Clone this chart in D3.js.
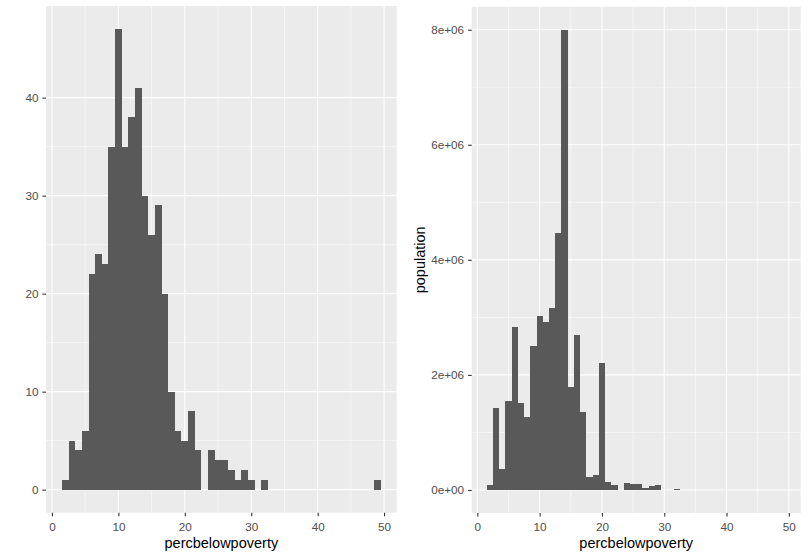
<!DOCTYPE html>
<html>
<head>
<meta charset="utf-8"/>
<title>percbelowpoverty histograms</title>
<script src="https://d3js.org/d3.v7.min.js"></script>
<style>
  body { margin: 0; background: #fff; }
  text { font-family: "Liberation Sans", Arial, sans-serif; }
</style>
</head>
<body>
<div id="chart"></div>
<script>
// bin centres (binwidth 1)
var bins = [2, 3, 4, 5, 6, 7, 8, 9, 10, 11, 12, 13, 14, 15, 16, 17, 18, 19, 20, 21, 22, 23, 24, 25,
            26, 27, 28, 29, 30, 31, 32, 33, 34, 35, 36, 37, 38, 39, 40, 41, 42, 43, 44, 45, 46, 47, 48, 49];

// left panel: number of counties per bin
var counts = [1, 5, 4, 6, 22, 24, 23, 35, 47, 35, 38, 41, 30, 26, 29, 20, 10, 6, 5, 8, 4, 0, 4, 3,
              3, 2, 1, 2, 1, 0, 1, 0, 0, 0, 0, 0, 0, 0, 0, 0, 0, 0, 0, 0, 0, 0, 0, 1];

// right panel: population per bin
var population = [90000, 1430000, 360000, 1540000, 2830000, 1510000, 1270000, 2500000, 3020000, 2920000,
                  3160000, 4470000, 8000000, 1790000, 2690000, 1350000, 220000, 260000, 2200000, 140000,
                  90000, 0, 125000, 105000, 105000, 38000, 75000, 88000, 3000, 0, 17000, 0,
                  0, 0, 0, 0, 0, 0, 0, 0, 0, 0, 0, 0, 0, 0, 0, 2000];

var xTicks = [0, 10, 20, 30, 40, 50];
var countTicks = [0, 10, 20, 30, 40];
var popTicks = [0, 2e6, 4e6, 6e6, 8e6];

var W = 809, H = 558;
var svg = d3.select("#chart").append("svg")
    .attr("width", W)
    .attr("height", H);

function popFormat(d) {
  if (d === 0) return "0e+00";
  return (d / 1e6) + "e+06";
}

function drawPanel(opt) {
  var x = d3.scaleLinear().domain([-0.9, 51.9]).range([opt.left, opt.right]);
  var y = d3.scaleLinear().domain(opt.yDomain).range([opt.bottom, opt.top]);
  var g = svg.append("g");

  // panel background
  g.append("rect")
    .attr("x", opt.left).attr("y", opt.top)
    .attr("width", opt.right - opt.left)
    .attr("height", opt.bottom - opt.top)
    .attr("fill", "#EBEBEB");

  // minor grid
  var xMinor = xTicks.slice(0, -1).map(d => d + 5);
  var yMinor = opt.yTicks.slice(0, -1).map((d, i) => (d + opt.yTicks[i + 1]) / 2);
  g.selectAll(".xminor").data(xMinor).enter().append("line")
    .attr("x1", d => x(d)).attr("x2", d => x(d))
    .attr("y1", opt.top).attr("y2", opt.bottom)
    .attr("stroke", "#fff").attr("stroke-width", 0.55);
  g.selectAll(".yminor").data(yMinor).enter().append("line")
    .attr("x1", opt.left).attr("x2", opt.right)
    .attr("y1", d => y(d)).attr("y2", d => y(d))
    .attr("stroke", "#fff").attr("stroke-width", 0.55);

  // major grid
  g.selectAll(".xmajor").data(xTicks).enter().append("line")
    .attr("x1", d => x(d)).attr("x2", d => x(d))
    .attr("y1", opt.top).attr("y2", opt.bottom)
    .attr("stroke", "#fff").attr("stroke-width", 1.1);
  g.selectAll(".ymajor").data(opt.yTicks).enter().append("line")
    .attr("x1", opt.left).attr("x2", opt.right)
    .attr("y1", d => y(d)).attr("y2", d => y(d))
    .attr("stroke", "#fff").attr("stroke-width", 1.1);

  // bars
  var data = bins.map((b, i) => ({bin: b, value: opt.values[i]})).filter(d => d.value > 0);
  g.selectAll(".bar").data(data).enter().append("rect")
    .attr("x", d => x(d.bin - 0.5))
    .attr("width", d => x(d.bin + 0.5) - x(d.bin - 0.5))
    .attr("y", d => y(d.value))
    .attr("height", d => y(0) - y(d.value))
    .attr("fill", "#595959")
    .attr("shape-rendering", "crispEdges");

  // axes
  var xAxis = g.append("g")
    .attr("transform", "translate(0," + opt.bottom + ")")
    .call(d3.axisBottom(x).tickValues(xTicks).tickSize(3.6).tickPadding(6).tickSizeOuter(0));
  var yAxis = g.append("g")
    .attr("transform", "translate(" + opt.left + ",0)")
    .call(d3.axisLeft(y).tickValues(opt.yTicks).tickSize(3.6).tickPadding(4).tickSizeOuter(0)
      .tickFormat(opt.format));
  [xAxis, yAxis].forEach(function(a) {
    a.select(".domain").remove();
    a.selectAll(".tick line").attr("stroke", "#333").attr("stroke-width", 1.1);
    a.selectAll(".tick text").attr("fill", "#4D4D4D")
      .style("font-size", "11.7px")
      .style("font-family", "'Liberation Sans', Arial, sans-serif");
  });

  // axis titles
  g.append("text")
    .attr("x", (opt.left + opt.right) / 2)
    .attr("y", 548)
    .attr("text-anchor", "middle")
    .style("font-size", "14.5px")
    .attr("fill", "#000")
    .text("percbelowpoverty");

  if (opt.yTitle) {
    g.append("text")
      .attr("transform", "translate(" + opt.yTitleX + "," + ((opt.top + opt.bottom) / 2) + ") rotate(-90)")
      .attr("text-anchor", "middle")
      .style("font-size", "14.5px")
      .attr("fill", "#000")
      .text(opt.yTitle);
  }
}

drawPanel({
  left: 46, right: 396.7, top: 6, bottom: 512.7,
  yDomain: [-2.35, 49.35],
  yTicks: countTicks,
  values: counts,
  format: d3.format("d")
});

drawPanel({
  left: 471.7, right: 800.7, top: 6.7, bottom: 513,
  yDomain: [-0.4e6, 8.4e6],
  yTicks: popTicks,
  values: population,
  format: popFormat,
  yTitle: "population",
  yTitleX: 425
});
</script>
</body>
</html>
